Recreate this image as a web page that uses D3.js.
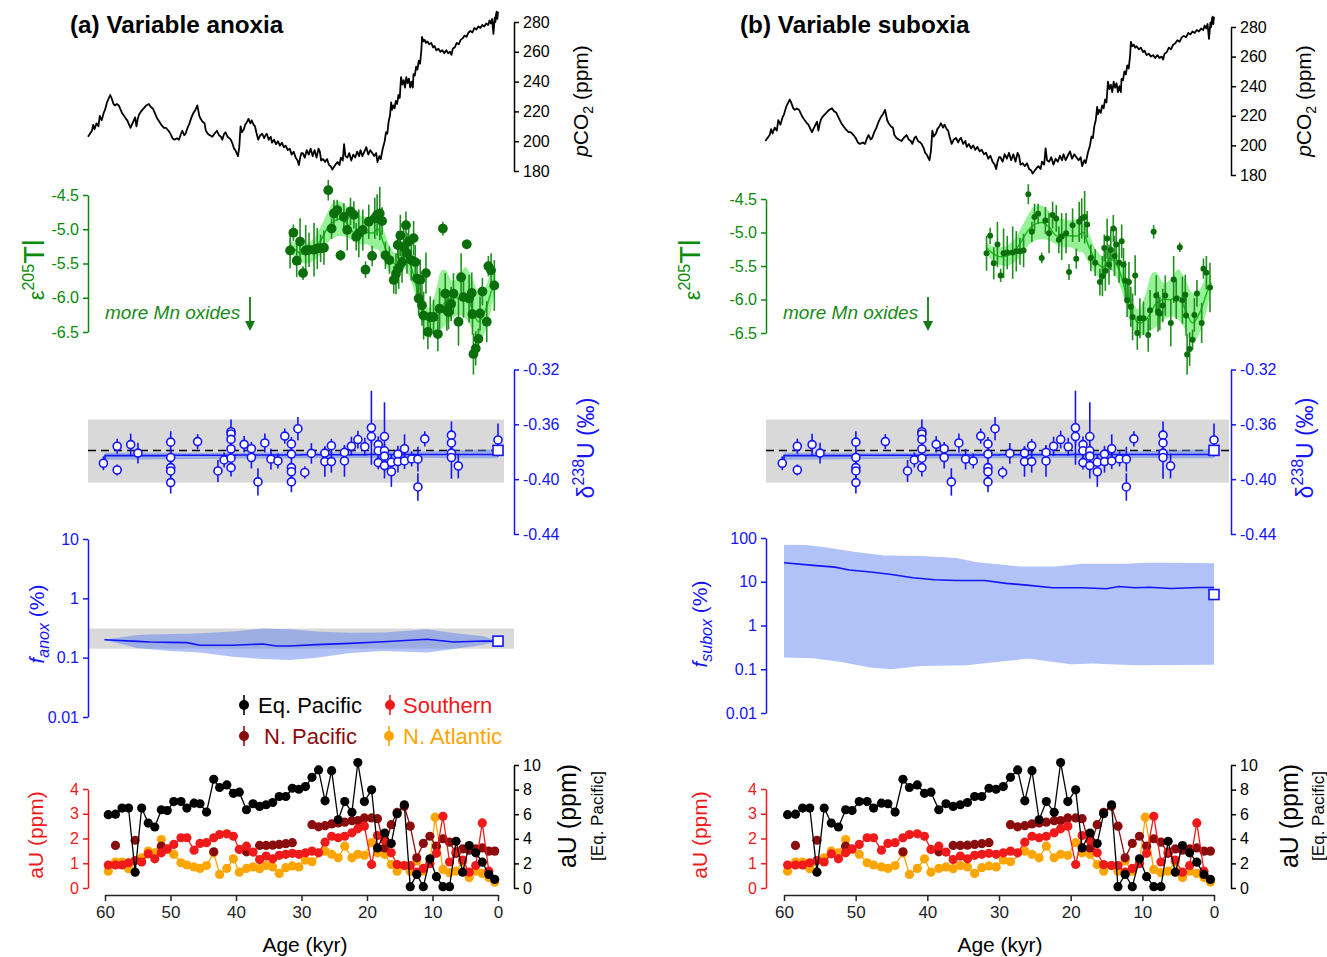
<!DOCTYPE html>
<html>
<head>
<meta charset="utf-8">
<script src="https://cdn.jsdelivr.net/npm/d3@7"></script>
<style>
  body { margin: 0; background: #fff; }
  svg { font-family: "Liberation Sans", Arial, sans-serif; }
</style>
</head>
<body>
<svg id="chart" width="1327" height="957"></svg>
<script>
// ---- pCO2 record (age kyr, ppm)
var co2Age = [62.6, 62.3, 62.0, 61.8, 61.6, 61.3, 61.0, 60.8, 60.5, 60.2,
  60.0, 59.7, 59.4, 59.2, 59.0, 58.7, 58.5, 58.2, 57.9, 57.6,
  57.4, 57.1, 56.8, 56.6, 56.3, 56.1, 55.8, 55.6, 55.4, 55.2,
  55.0, 54.8, 54.5, 54.1, 53.7, 53.3, 53.0, 52.7, 52.4, 52.0,
  51.7, 51.4, 51.0, 50.7, 50.3, 50.0, 49.7, 49.4, 49.0, 48.7,
  48.4, 48.2, 47.9, 47.7, 47.4, 47.1, 46.8, 46.5, 46.2, 45.9,
  45.6, 45.4, 45.1, 44.8, 44.6, 44.3, 44.0, 43.6, 43.3, 42.9,
  42.6, 42.3, 42.1, 41.8, 41.6, 41.3, 41.0, 40.8, 40.5, 40.3,
  40.1,
  39.9, 39.7, 39.5, 39.3, 39.1, 38.8, 38.6, 38.3, 38.1, 37.8,
  37.6, 37.3, 37.1, 36.9, 36.6, 36.3, 36.0, 35.7, 35.5, 35.3,
  35.0, 34.7, 34.5, 34.2, 33.9, 33.6, 33.3, 33.0, 32.7, 32.4,
  32.1, 31.8, 31.5, 31.2, 30.9, 30.6, 30.4, 30.2, 30.0,
  29.8, 29.5, 29.2, 28.9, 28.6, 28.3, 28.0, 27.7, 27.4, 27.2,
  27.0, 26.7, 26.4, 26.1, 25.8, 25.5, 25.3, 25.0, 24.7, 24.5,
  24.2, 24.0, 23.7, 23.5, 23.3, 23.0, 22.7, 22.4, 22.1, 21.8,
  21.5, 21.2, 21.0, 20.7, 20.4, 20.1, 19.8, 19.5, 19.2, 18.9,
  18.6, 18.4, 18.1, 17.9, 17.6, 17.3,
  17.1, 16.9, 16.7, 16.5, 16.3, 16.2, 16.0, 15.8, 15.6, 15.4,
  15.2, 15.0, 14.8, 14.6, 14.4, 14.2, 14.0, 13.8, 13.6, 13.4,
  13.2, 13.0, 12.9, 12.7, 12.5, 12.3, 12.1, 11.9, 11.7, 11.6,
  11.4, 11.2, 11.0, 10.8, 10.5, 10.2, 9.9, 9.7, 9.4, 9.1,
  8.8, 8.5, 8.2, 7.9, 7.6, 7.3, 7.1, 6.9, 6.6, 6.3,
  6.0, 5.7, 5.4, 5.1, 4.8, 4.5, 4.2, 3.9, 3.6, 3.3,
  3.0, 2.7, 2.4, 2.1, 1.8, 1.5, 1.3, 1.1, 0.9, 0.7,
  0.5, 0.4, 0.3, 0.2, 0.1, 0.0];
var co2Ppm = [203, 205, 207, 211, 208, 212, 210, 217, 214, 219,
  221, 226, 229, 231, 229, 225, 224, 225, 224, 221,
  219, 217, 215, 214, 211, 209, 212, 214, 216, 210,
  215, 218, 220, 222, 224, 225, 223, 222, 219, 215,
  213, 211, 209, 209, 207, 205, 202, 201, 202, 201,
  205, 207, 204, 205, 209, 212, 216, 219, 221, 224,
  217, 215, 213, 212, 207, 205, 204, 203, 205, 207,
  204, 203, 201, 205, 206, 203, 202, 201, 198, 195,
  194,
  192, 190, 196, 210, 206, 208, 211, 213, 215, 212,
  214, 211, 210, 206, 201, 204, 205, 202, 204, 205,
  201, 203, 199, 201, 198, 200, 197, 199, 196, 197,
  194, 195, 191, 193, 189, 187, 184, 189, 192,
  192, 189, 194, 191, 195, 190, 194, 189, 195, 193,
  187, 188, 186, 188, 184, 183, 181, 183, 185, 186,
  184, 189, 187, 198, 190, 189, 192, 187, 191, 189,
  193, 190, 194, 190, 193, 196, 191, 194, 192, 190,
  192, 186, 190, 188, 195, 200,
  206, 205, 213, 217, 226, 221, 224, 222, 227, 225,
  231, 229, 243, 238, 241, 236, 243, 239, 242, 236,
  240, 236, 245, 244, 250, 248, 254, 252, 261, 270,
  267, 268, 266, 267, 265, 266, 263, 264, 261, 262,
  260, 261, 259, 261, 259, 260, 258, 262, 263, 266,
  265, 268, 269, 271, 270, 273, 274, 273, 276, 275,
  277, 276, 278, 277, 279, 278, 281, 279, 282, 272,
  283, 280, 285, 287, 282, 287];

// ---- Tl isotopes (epsilon 205Tl) with 2sd
var tlAge = [31.74, 31.24, 30.73, 30.22, 29.77, 29.36, 28.85, 28.09, 27.59, 27.08, 26.57, 25.91, 25.41, 25.05, 24.54, 24.04, 23.53, 23.02, 22.52, 22.01, 21.65, 21.25, 20.64, 20.23, 19.73, 19.22, 18.81, 18.46, 18.05, 17.7, 17.19, 16.58, 15.92, 15.57, 15.31, 15.16, 14.91, 14.65, 14.4, 14.05, 13.89, 13.64, 13.24, 12.88, 12.63, 12.37, 12.12, 11.87, 11.61, 11.36, 11.0, 10.7, 10.34, 9.84, 9.18, 8.92, 8.42, 8.06, 7.81, 7.56, 7.15, 6.8, 6.03, 5.63, 5.27, 4.77, 4.41, 4.01, 3.9, 3.75, 3.4, 2.99, 2.74, 2.38, 1.72, 1.47, 1.06, 0.56];
var tlVal = [-5.31, -5.05, -5.46, -5.18, -5.64, -5.31, -5.30, -5.30, -5.28, -5.28, -5.27, -4.43, -4.99, -4.77, -4.72, -5.38, -4.82, -5.01, -4.74, -4.79, -5.11, -5.06, -5.01, -5.59, -4.89, -5.39, -4.84, -4.79, -4.77, -4.88, -5.38, -5.45, -5.74, -5.65, -5.23, -5.57, -5.09, -5.48, -5.26, -4.94, -5.35, -5.18, -5.45, -5.13, -5.48, -5.72, -6.01, -5.74, -6.11, -6.26, -5.64, -6.50, -6.28, -6.28, -6.53, -6.16, -4.99, -5.94, -6.18, -6.21, -6.09, -5.94, -6.35, -5.70, -5.99, -5.22, -6.01, -5.93, -6.24, -6.82, -6.74, -6.60, -6.23, -5.91, -6.35, -5.54, -5.60, -5.82];
var tlErr = [0.26, 0.12, 0.24, 0.34, 0.1, 0.37, 0.25, 0.39, 0.3, 0.2, 0.25, 0.15, 0.15, 0.2, 0.15, 0.08, 0.2, 0.3, 0.2, 0.2, 0.2, 0.35, 0.3, 0.12, 0.25, 0.15, 0.3, 0.3, 0.39, 0.2, 0.2, 0.2, 0.2, 0.3, 0.2, 0.3, 0.3, 0.3, 0.3, 0.2, 0.3, 0.25, 0.3, 0.25, 0.25, 0.3, 0.25, 0.3, 0.3, 0.35, 0.3, 0.25, 0.3, 0.25, 0.25, 0.3, 0.1, 0.3, 0.3, 0.25, 0.25, 0.3, 0.35, 0.35, 0.3, 0.07, 0.35, 0.3, 0.3, 0.3, 0.25, 0.15, 0.25, 0.2, 0.3, 0.15, 0.25, 0.37];
var tlFitAge = [31.8, 31, 30, 29, 28, 27, 26, 25, 24, 23, 22, 21, 20, 19, 18.3, 17.5, 16.5, 15.5, 14.5, 13.5, 12.5, 11.5, 10.5, 9.5, 8.6, 8, 7, 6, 5, 4, 3, 2, 1, 0.4];
var tlFit = [-5.22, -5.3, -5.36, -5.35, -5.3, -5.15, -4.98, -4.88, -4.85, -4.92, -5.05, -5.05, -5.05, -5.05, -5.0, -5.2, -5.42, -5.52, -5.38, -5.5, -5.82, -6.2, -6.35, -6.3, -6.15, -6.05, -6.0, -6.0, -5.95, -6.15, -6.35, -6.2, -5.9, -5.75];
var tlFitHi = [-5.15, -5.2, -5.22, -5.2, -5.12, -4.95, -4.75, -4.6, -4.6, -4.68, -4.78, -4.8, -4.82, -4.8, -4.85, -5.0, -5.25, -5.35, -5.2, -5.3, -5.6, -6.0, -6.15, -5.9, -5.6, -5.6, -5.75, -5.7, -5.55, -5.7, -5.9, -5.85, -5.65, -5.65];
var tlFitLo = [-5.3, -5.42, -5.48, -5.5, -5.45, -5.35, -5.2, -5.12, -5.1, -5.12, -5.18, -5.22, -5.22, -5.28, -5.3, -5.45, -5.62, -5.72, -5.55, -5.7, -6.0, -6.4, -6.55, -6.5, -6.45, -6.4, -6.3, -6.25, -6.3, -6.45, -6.65, -6.5, -6.15, -5.85];

// ---- U isotopes (d238U, permil) with 2sd
var uAge = [60.24, 58.14, 58.14, 56.08, 54.97, 49.97, 49.97, 49.97, 49.97, 49.97, 45.86, 42.76, 41.81, 40.76, 40.76, 40.76, 40.76, 40.76, 40.76, 38.76, 37.65, 37.65, 36.65, 35.6, 34.66, 33.6, 32.55, 31.54, 31.54, 31.54, 31.54, 31.54, 30.55, 29.5, 28.49, 26.44, 26.44, 25.44, 25.44, 23.44, 23.44, 22.38, 21.39, 20.34, 19.33, 19.33, 18.28, 18.28, 18.28, 17.33, 17.33, 17.33, 17.33, 16.28, 16.28, 15.28, 15.28, 14.27, 14.27, 13.18, 12.23, 12.23, 11.18, 7.11, 7.11, 7.11, 7.11, 6.06, 0];
var uVal = [-0.3884, -0.376, -0.3933, -0.3748, -0.381, -0.373, -0.3842, -0.3916, -0.394, -0.4025, -0.3726, -0.394, -0.386, -0.3654, -0.367, -0.371, -0.378, -0.3847, -0.3916, -0.3746, -0.3778, -0.3842, -0.402, -0.3736, -0.3854, -0.3867, -0.3686, -0.3743, -0.3817, -0.3916, -0.3946, -0.402, -0.3632, -0.3951, -0.3812, -0.381, -0.3872, -0.3756, -0.3872, -0.3805, -0.3867, -0.376, -0.3711, -0.3763, -0.3625, -0.3689, -0.3748, -0.3793, -0.3879, -0.3689, -0.3793, -0.3832, -0.3901, -0.3877, -0.3946, -0.3817, -0.3872, -0.3778, -0.3867, -0.3852, -0.3854, -0.4057, -0.3706, -0.3679, -0.3736, -0.381, -0.3842, -0.3904, -0.3714];
var uErr = [0.005, 0.0055, 0.004, 0.008, 0.0075, 0.008, 0.005, 0.005, 0.005, 0.008, 0.0055, 0.008, 0.0055, 0.009, 0.005, 0.005, 0.005, 0.005, 0.0065, 0.006, 0.005, 0.008, 0.01, 0.007, 0.0075, 0.0055, 0.0055, 0.005, 0.005, 0.005, 0.005, 0.0075, 0.0085, 0.0045, 0.0075, 0.005, 0.011, 0.005, 0.008, 0.005, 0.0115, 0.007, 0.0065, 0.0065, 0.027, 0.005, 0.006, 0.005, 0.005, 0.025, 0.005, 0.005, 0.0094, 0.006, 0.011, 0.006, 0.008, 0.0105, 0.006, 0.0055, 0.009, 0.01, 0.0055, 0.01, 0.005, 0.005, 0.0155, 0.009, 0.012];
var uLineAge = [60.24, 60.0, 58.0, 50, 40, 30, 20, 10, 5, 0];
var uLine = [-0.3875, -0.3828, -0.3828, -0.3826, -0.3824, -0.3822, -0.382, -0.382, -0.382, -0.3818];
var uLineHi = [-0.3875, -0.3808, -0.3808, -0.3808, -0.3808, -0.3806, -0.3804, -0.3796, -0.3788, -0.3782];
var uLineLo = [-0.3875, -0.3858, -0.3858, -0.3855, -0.385, -0.3848, -0.3845, -0.3846, -0.3848, -0.3848];
var uModern = -0.379;
var uModernBand = [-0.3565, -0.4025];

// ---- model output: f anox (left) and f subox (right), percent
var anoxAge = [60.1, 55, 53.1, 50, 47.5, 45.5, 40.5, 35.9, 33.8, 31.8, 27.7, 22.6, 17.5, 10.8, 6.8, 2.2, 0];
var anoxLine = [0.2, 0.188, 0.184, 0.181, 0.179, 0.162, 0.162, 0.17, 0.157, 0.157, 0.166, 0.174, 0.186, 0.204, 0.184, 0.191, 0.19];
var anoxHi = [0.2, 0.242, 0.245, 0.25, 0.253, 0.257, 0.275, 0.31, 0.305, 0.3, 0.275, 0.262, 0.265, 0.3, 0.26, 0.23, 0.19];
var anoxLo = [0.2, 0.144, 0.138, 0.13, 0.126, 0.122, 0.104, 0.095, 0.093, 0.091, 0.1, 0.12, 0.129, 0.122, 0.14, 0.165, 0.19];
var anoxModern = 0.19;
var anoxModernBand = [0.31, 0.142];

var suboxAge = [60, 55.9, 52.9, 50.9, 47.9, 45, 42, 39, 36, 32, 29, 26.5, 22.5, 18.5, 15, 13.3, 11, 9, 6, 2.1, 0];
var suboxLine = [27.2, 23.7, 21.6, 18.5, 16.7, 14.7, 12.3, 11.1, 10.7, 10.7, 9.2, 8.5, 7.3, 7.3, 6.9, 7.8, 7.3, 7.5, 7.0, 7.4, 7.4];
var suboxHiAge = [60, 57, 54, 50, 46, 41, 36, 33, 27, 22, 18.5, 12, 9.6, 6, 0];
var suboxHi = [70, 69, 61, 47.8, 40, 38.6, 35, 28, 22.4, 22.4, 25.8, 25.8, 27.2, 27.2, 26.4];
var suboxLoAge = [60, 55.9, 52, 48, 45, 41, 34.5, 31, 26, 20, 17, 11, 0];
var suboxLo = [0.185, 0.179, 0.147, 0.109, 0.1, 0.119, 0.124, 0.142, 0.175, 0.13, 0.135, 0.124, 0.126];
var suboxModern = 5.1;

// ---- authigenic U (ppm)
var eqAge = [59.5, 58.4, 57.4, 56.4, 55.4, 54.4, 53.4, 52.4, 51.4, 50.5, 49.5, 48.4, 47.5, 46.4, 45.5, 44.5, 43.4, 42.5, 41.4, 40.4, 39.5, 38.4, 37.4, 36.4, 35.4, 34.4, 33.4, 32.4, 31.4, 30.4, 29.4, 28.4, 27.4, 26.4, 25.4, 24.4, 23.4, 22.3, 21.4, 20.4, 19.3, 18.4, 17.3, 16.3, 15.4, 14.3, 13.4, 12.4, 11.4, 10.4, 9.4, 8.4, 7.4, 6.4, 5.4, 4.4, 3.4, 2.4, 1.4, 0.5];
var eqU = [5.96, 6.0, 6.5, 6.5, 1.29, 6.5, 5.28, 4.96, 6.36, 6.3, 7.03, 7.03, 6.5, 6.9, 6.85, 6.17, 8.84, 8.17, 8.38, 7.7, 7.79, 6.36, 6.85, 6.63, 6.77, 6.95, 7.44, 7.44, 8.11, 8.03, 8.25, 9.0, 9.6, 7.09, 9.54, 5.55, 7.03, 6.15, 10.2, 7.03, 7.98, 3.26, 4.47, 3.61, 6.04, 6.77, 0.11, 1.1, 0.11, 2.37, 0.92, 0.11, 0.11, 3.8, 1.29, 3.45, 2.86, 2.1, 1.1, 0.7];
var soAge = [59.5, 58.4, 57.4, 56.4, 55.4, 54.4, 53.4, 52.4, 51.4, 50.5, 49.5, 48.4, 47.5, 46.4, 45.5, 44.5, 43.4, 42.5, 41.4, 40.4, 39.5, 38.4, 37.4, 36.4, 35.4, 34.4, 33.4, 32.4, 31.4, 30.4, 29.4, 28.4, 27.4, 26.4, 25.4, 24.4, 23.4, 22.3, 21.4, 20.4, 19.3, 18.4, 17.3, 16.3, 15.4, 14.3, 13.4, 12.4, 11.4, 10.4, 9.4, 8.4, 7.4, 6.4, 5.4, 4.4, 3.4, 2.4, 1.4];
var soU = [0.93, 0.93, 0.93, 1.02, 1.11, 1.05, 1.38, 1.18, 1.42, 1.58, 1.76, 2.03, 2.03, 1.53, 1.8, 1.83, 2.03, 2.16, 2.19, 2.09, 1.56, 1.69, 1.45, 1.15, 1.29, 1.18, 1.32, 1.36, 1.4, 1.36, 1.42, 1.49, 1.42, 1.85, 2.09, 2.03, 2.09, 2.23, 2.39, 2.5, 0.95, 2.12, 1.93, 1.42, 0.95, 0.91, 0.91, 0.64, 0.79, 0.98, 1.4, 2.9, 1.05, 1.46, 1.13, 0.64, 0.91, 2.63, 0.68];
var npAge = [58.4, 55.4, 51.4, 43.4, 38.4, 36.4, 35.4, 34.4, 33.4, 32.4, 31.4, 28.4, 27.4, 26.4, 25.4, 24.4, 23.4, 22.3, 21.4, 20.4, 19.3, 18.4, 17.3, 16.3, 15.4, 14.3, 13.4, 12.4, 11.4, 10.4, 9.4, 8.4, 7.4, 6.4, 5.4, 4.4, 3.4, 2.4, 1.4, 0.5];
var npU = [1.72, 1.93, 1.69, 1.46, 1.46, 1.72, 1.72, 1.73, 1.76, 1.79, 1.83, 2.56, 2.47, 2.52, 2.59, 2.63, 2.66, 2.72, 2.72, 2.83, 2.83, 2.8, 1.62, 2.56, 3.06, 3.3, 2.5, 1.22, 1.8, 2.09, 1.69, 1.99, 1.85, 1.4, 1.58, 1.53, 1.58, 1.62, 1.49, 1.49];
var npSeg = [0, 1, 2, 3, 4, 5, 5, 5, 5, 5, 5, 6, 6, 6, 6, 6, 6, 6, 6, 6, 6, 6, 6, 6, 6, 6, 6, 6, 6, 6, 6, 6, 6, 6, 6, 6, 6, 6, 6, 6];
var naAge = [59.5, 58.4, 57.4, 56.4, 54.4, 53.4, 52.4, 51.4, 50.5, 49.5, 48.4, 47.5, 46.4, 45.5, 44.5, 43.4, 42.5, 41.4, 40.4, 39.5, 38.4, 37.4, 36.4, 35.4, 34.4, 33.4, 32.4, 31.4, 30.4, 29.4, 28.4, 26.4, 25.4, 24.4, 23.4, 22.3, 21.4, 20.4, 19.3, 18.4, 17.3, 16.3, 15.4, 14.3, 13.4, 12.4, 11.4, 10.4, 9.6, 8.4, 7.4, 6.4, 5.4, 4.4, 3.4, 2.4, 1.4, 0.5];
var naU = [0.68, 1.05, 1.05, 0.78, 1.22, 1.49, 1.42, 1.96, 1.56, 1.36, 1.02, 0.93, 0.85, 0.79, 0.91, 1.42, 0.55, 0.79, 1.18, 0.64, 0.79, 0.85, 0.78, 0.91, 0.85, 0.59, 0.82, 0.89, 0.85, 1.13, 1.06, 1.49, 1.36, 1.22, 1.69, 1.22, 1.36, 1.32, 1.83, 1.42, 1.36, 0.95, 0.68, 0.91, 0.68, 1.09, 0.68, 1.02, 2.86, 0.75, 0.62, 0.68, 1.05, 0.42, 0.68, 0.59, 0.42, 0.24];

// ---- ticks
var co2Ticks = [180, 200, 220, 240, 260, 280];
var tlTicks = [-4.5, -5.0, -5.5, -6.0, -6.5];
var uTicks = [-0.32, -0.36, -0.40, -0.44];
var ageTicks = [60, 50, 40, 30, 20, 10, 0];
var auLTicks = [0, 1, 2, 3, 4];
var auRTicks = [0, 2, 4, 6, 8, 10];
var legendNames = ['Eq. Pacific', 'Southern', 'N. Pacific', 'N. Atlantic'];

var GREEN = '#0a8a0a', GREEN_PT = '#0a6e0a', BLUE = '#1414ff', RED = '#f01a1a', DKRED = '#8b0c0c', ORANGE = '#ffa500';
var FONT = '"Liberation Sans", Arial, sans-serif';

var columns = [
  { title: '(a) Variable anoxia', titleX: 70, axL: 88, axR: 514, x60: 105, x0: 498, bandEnd: 504,
    co2: [22, 171], tl: [195, 332], du: [369.5, 534], f: [539, 717], auL: [789, 888], auR: [765, 888], ageY: 895,
    mode: 'anox', tlR: 4.9, labels: { co2X: 588, tlX: 44, duX: 594, fX: 44, auLX: 43, auRX: 576, eqX: 603, ageX: 305, mnX: 105, arrowX: 250 } },
  { title: '(b) Variable suboxia', titleX: 740, axL: 766, axR: 1231, x60: 784, x0: 1214, bandEnd: 1229,
    co2: [27, 175], tl: [199, 333], du: [369.5, 534], f: [538, 713], auL: [789, 888], auR: [765, 888], ageY: 895,
    mode: 'subox', tlR: 3.0, labels: { co2X: 1311, tlX: 700, duX: 1313, fX: 707, auLX: 707, auRX: 1298, eqX: 1324, ageX: 1000, mnX: 783, arrowX: 928 } }
];

var svg = d3.select('#chart');

function styleAxis(g, color, size) {
  g.attr('font-family', FONT).attr('font-size', size || 16);
  g.selectAll('path, line').attr('stroke', color).attr('stroke-width', 1.5);
  g.selectAll('text').attr('fill', color);
}

// rotated axis title built from tspans (for super/subscripts)
function rotLabel(x, y, size, color, parts) {
  var t = svg.append('text')
    .attr('transform', 'translate(' + x + ',' + y + ') rotate(-90)')
    .attr('text-anchor', 'middle').attr('fill', color)
    .attr('font-size', size).attr('font-family', FONT);
  parts.forEach(function(p) {
    var s = t.append('tspan').text(p.t);
    if (p.size) s.attr('font-size', p.size);
    if (p.dy) s.attr('dy', p.dy);
    if (p.it) s.attr('font-style', 'italic');
  });
  return t;
}

function polygon(x, y, ageHi, hi, ageLo, lo) {
  var pts = ageHi.map(function(a, i) { return [x(a), y(hi[i])]; });
  for (var i = ageLo.length - 1; i >= 0; i--) pts.push([x(ageLo[i]), y(lo[i])]);
  return d3.line()(pts) + 'Z';
}

function fixed(n) { return function(d) { return d.toFixed(n); }; }

columns.forEach(function(c, ci) {
  var L = c.labels;
  var x = d3.scaleLinear().domain([60, 0]).range([c.x60, c.x0]);

  svg.append('text').attr('x', c.titleX).attr('y', 33).attr('font-size', 24.3).attr('font-weight', 'bold')
    .attr('font-family', FONT).text(c.title);

  // ---------- pCO2
  var yC = d3.scaleLinear().domain([180, 280]).range([c.co2[1], c.co2[0]]);
  svg.append('path').datum(co2Age.map(function(a, i) { return [a, co2Ppm[i]]; }))
    .attr('fill', 'none').attr('stroke', '#000').attr('stroke-width', 1.8).attr('stroke-linejoin', 'round')
    .attr('d', d3.line().x(function(d) { return x(d[0]); }).y(function(d) { return yC(d[1]); }));
  var gC = svg.append('g').attr('transform', 'translate(' + c.axR + ',0)')
    .call(d3.axisRight(yC).tickValues(co2Ticks).tickSize(5).tickSizeOuter(0).tickPadding(4));
  styleAxis(gC, '#000');
  rotLabel(L.co2X, 101, 21, '#000', [{ t: 'p', it: true }, { t: 'CO' }, { t: '2', size: 14, dy: 5 }, { t: ' (ppm)', dy: -5 }]);

  // ---------- Tl
  var yT = d3.scaleLinear().domain([-4.5, -6.5]).range([c.tl[0], c.tl[1]]);
  svg.append('path').datum(tlFitAge.map(function(a, i) { return i; }))
    .attr('fill', '#8cf08c').attr('opacity', 0.9)
    .attr('d', d3.area().curve(d3.curveCatmullRom)
      .x(function(i) { return x(tlFitAge[i]); })
      .y0(function(i) { return yT(tlFitLo[i]); })
      .y1(function(i) { return yT(tlFitHi[i]); }));
  svg.append('path').datum(tlFitAge.map(function(a, i) { return [a, tlFit[i]]; }))
    .attr('fill', 'none').attr('stroke', '#16c016').attr('stroke-width', 1.5)
    .attr('d', d3.line().curve(d3.curveCatmullRom).x(function(d) { return x(d[0]); }).y(function(d) { return yT(d[1]); }));
  var tlPts = tlAge.map(function(a, i) { return { a: a, v: tlVal[i], e: tlErr[i] }; });
  svg.append('g').selectAll('line').data(tlPts).join('line')
    .attr('x1', function(d) { return x(d.a); }).attr('x2', function(d) { return x(d.a); })
    .attr('y1', function(d) { return yT(d.v + d.e); }).attr('y2', function(d) { return yT(d.v - d.e); })
    .attr('stroke', '#1f8f1f').attr('stroke-width', 1.6);
  svg.append('g').selectAll('circle').data(tlPts).join('circle')
    .attr('cx', function(d) { return x(d.a); }).attr('cy', function(d) { return yT(d.v); })
    .attr('r', c.tlR).attr('fill', GREEN_PT);
  var gT = svg.append('g').attr('transform', 'translate(' + c.axL + ',0)')
    .call(d3.axisLeft(yT).tickValues(tlTicks).tickFormat(fixed(1)).tickSize(5).tickSizeOuter(0).tickPadding(4));
  styleAxis(gT, GREEN);
  rotLabel(L.tlX, 270, 22, GREEN, [{ t: 'ε' }, { t: '205', size: 16, dy: -10 }, { t: 'Tl', size: 29, dy: 10 }]);
  svg.append('text').attr('x', L.mnX).attr('y', 319).attr('font-size', 19).attr('font-style', 'italic')
    .attr('fill', '#1a8a1a').attr('font-family', FONT).text('more Mn oxides');
  svg.append('line').attr('x1', L.arrowX).attr('x2', L.arrowX).attr('y1', 297).attr('y2', 323)
    .attr('stroke', '#137a13').attr('stroke-width', 1.8);
  svg.append('path').attr('d', 'M' + (L.arrowX - 5) + ',321L' + (L.arrowX + 5) + ',321L' + L.arrowX + ',331Z').attr('fill', '#137a13');

  // ---------- d238U
  var yU = d3.scaleLinear().domain([-0.32, -0.44]).range([c.du[0], c.du[1]]);
  svg.append('rect').attr('x', c.axL).attr('width', c.bandEnd - c.axL)
    .attr('y', yU(uModernBand[0])).attr('height', yU(uModernBand[1]) - yU(uModernBand[0])).attr('fill', '#d9d9d9');
  svg.append('line').attr('x1', c.axL).attr('x2', c.bandEnd).attr('y1', yU(uModern)).attr('y2', yU(uModern))
    .attr('stroke', '#000').attr('stroke-width', 1.5).attr('stroke-dasharray', '8,5');
  svg.append('path').attr('fill', 'rgba(90,130,240,0.5)')
    .attr('d', polygon(x, yU, uLineAge, uLineHi, uLineAge, uLineLo));
  svg.append('path').datum(uLineAge.map(function(a, i) { return [a, uLine[i]]; }))
    .attr('fill', 'none').attr('stroke', BLUE).attr('stroke-width', 1.6)
    .attr('d', d3.line().curve(d3.curveStepAfter).x(function(d) { return x(d[0]); }).y(function(d) { return yU(d[1]); }));
  var uPts = uAge.map(function(a, i) { return { a: a, v: uVal[i], e: uErr[i] }; });
  svg.append('g').selectAll('line').data(uPts).join('line')
    .attr('x1', function(d) { return x(d.a); }).attr('x2', function(d) { return x(d.a); })
    .attr('y1', function(d) { return yU(d.v + d.e); }).attr('y2', function(d) { return yU(d.v - d.e); })
    .attr('stroke', BLUE).attr('stroke-width', 1.6);
  svg.append('g').selectAll('circle').data(uPts).join('circle')
    .attr('cx', function(d) { return x(d.a); }).attr('cy', function(d) { return yU(d.v); })
    .attr('r', 4).attr('fill', '#fff').attr('stroke', BLUE).attr('stroke-width', 1.6);
  svg.append('rect').attr('x', x(0) - 5).attr('y', yU(uModern) - 5).attr('width', 10).attr('height', 10)
    .attr('fill', '#fff').attr('stroke', BLUE).attr('stroke-width', 1.6);
  var gU = svg.append('g').attr('transform', 'translate(' + c.axR + ',0)')
    .call(d3.axisRight(yU).tickValues(uTicks).tickFormat(fixed(2)).tickSize(5).tickSizeOuter(0).tickPadding(4));
  styleAxis(gU, BLUE);
  rotLabel(L.duX, 448, 23, BLUE, [{ t: 'δ' }, { t: '238', size: 16, dy: -10 }, { t: 'U (‰)', dy: 10 }]);

  // ---------- f anox / f subox
  var yF;
  if (c.mode === 'anox') {
    yF = d3.scaleLog().domain([10, 0.01]).range([c.f[0], c.f[1]]);
    svg.append('rect').attr('x', c.axL).attr('width', c.axR - c.axL)
      .attr('y', yF(anoxModernBand[0])).attr('height', yF(anoxModernBand[1]) - yF(anoxModernBand[0])).attr('fill', '#d9d9d9');
    svg.append('path').attr('fill', 'rgba(80,120,240,0.45)')
      .attr('d', polygon(x, yF, anoxAge, anoxHi, anoxAge, anoxLo));
    svg.append('path').datum(anoxAge.map(function(a, i) { return [a, anoxLine[i]]; }))
      .attr('fill', 'none').attr('stroke', BLUE).attr('stroke-width', 1.6)
      .attr('d', d3.line().x(function(d) { return x(d[0]); }).y(function(d) { return yF(d[1]); }));
    svg.append('rect').attr('x', x(0) - 5).attr('y', yF(anoxModern) - 5).attr('width', 10).attr('height', 10)
      .attr('fill', '#fff').attr('stroke', BLUE).attr('stroke-width', 1.6);
  } else {
    yF = d3.scaleLog().domain([100, 0.01]).range([c.f[0], c.f[1]]);
    svg.append('path').attr('fill', 'rgba(80,120,240,0.45)')
      .attr('d', polygon(x, yF, suboxHiAge, suboxHi, suboxLoAge, suboxLo));
    svg.append('path').datum(suboxAge.map(function(a, i) { return [a, suboxLine[i]]; }))
      .attr('fill', 'none').attr('stroke', BLUE).attr('stroke-width', 1.6)
      .attr('d', d3.line().x(function(d) { return x(d[0]); }).y(function(d) { return yF(d[1]); }));
    svg.append('rect').attr('x', x(0) - 5).attr('y', yF(suboxModern) - 5).attr('width', 10).attr('height', 10)
      .attr('fill', '#fff').attr('stroke', BLUE).attr('stroke-width', 1.6);
  }
  var fTicks = c.mode === 'anox' ? [10, 1, 0.1, 0.01] : [100, 10, 1, 0.1, 0.01];
  var gF = svg.append('g').attr('transform', 'translate(' + c.axL + ',0)')
    .call(d3.axisLeft(yF).tickValues(fTicks).tickFormat(function(d) { return String(d); }).tickSize(5).tickSizeOuter(0).tickPadding(4));
  styleAxis(gF, BLUE);
  rotLabel(L.fX, 624, 21, BLUE, [{ t: 'f', it: true }, { t: c.mode, it: true, size: 16, dy: 5 }, { t: ' (%)', dy: -5 }]);

  // ---------- authigenic U
  var yL = d3.scaleLinear().domain([0, 4]).range([c.auL[1], c.auL[0]]);
  var yR = d3.scaleLinear().domain([0, 10]).range([c.auR[1], c.auR[0]]);
  function series(ages, vals, ys, color, segs) {
    var pts = ages.map(function(a, i) { return { a: a, v: vals[i], s: segs ? segs[i] : 0 }; });
    var groups = d3.groups(pts, function(d) { return d.s; });
    var line = d3.line().x(function(d) { return x(d.a); }).y(function(d) { return ys(d.v); });
    groups.forEach(function(gp) {
      if (gp[1].length > 1) svg.append('path').datum(gp[1]).attr('fill', 'none').attr('stroke', color).attr('stroke-width', 1.3).attr('d', line);
    });
    svg.append('g').selectAll('circle').data(pts).join('circle')
      .attr('cx', function(d) { return x(d.a); }).attr('cy', function(d) { return ys(d.v); })
      .attr('r', 4.6).attr('fill', color);
  }
  series(naAge, naU, yL, ORANGE);
  series(npAge, npU, yL, DKRED, npSeg);
  series(soAge, soU, yL, RED);
  series(eqAge, eqU, yR, '#000');

  var gL = svg.append('g').attr('transform', 'translate(' + c.axL + ',0)')
    .call(d3.axisLeft(yL).tickValues(auLTicks).tickFormat(fixed(0)).tickSize(5).tickSizeOuter(0).tickPadding(4));
  styleAxis(gL, RED);
  var gR = svg.append('g').attr('transform', 'translate(' + c.axR + ',0)')
    .call(d3.axisRight(yR).tickValues(auRTicks).tickFormat(fixed(0)).tickSize(5).tickSizeOuter(0).tickPadding(4));
  styleAxis(gR, '#000');
  var gX = svg.append('g').attr('transform', 'translate(0,' + c.ageY + ')')
    .call(d3.axisBottom(x).tickValues(ageTicks).tickFormat(fixed(0)).tickSize(6).tickSizeOuter(0).tickPadding(5));
  styleAxis(gX, '#222', 17);
  svg.append('text').attr('x', L.ageX).attr('y', 952).attr('text-anchor', 'middle').attr('font-size', 21)
    .attr('font-family', FONT).text('Age (kyr)');
  rotLabel(L.auLX, 835, 21, RED, [{ t: 'aU (ppm)' }]);
  rotLabel(L.auRX, 816, 25, '#000', [{ t: 'aU (ppm)' }]);
  rotLabel(L.eqX, 816, 17, '#000', [{ t: '[Eq. Pacific]' }]);

  // ---------- legend (left column only)
  if (ci === 0) {
    var leg = [
      { n: legendNames[0], c: '#000', mx: 244, tx: 258, y: 705 },
      { n: legendNames[1], c: RED, mx: 390, tx: 403, y: 705 },
      { n: legendNames[2], c: DKRED, mx: 244, tx: 264, y: 736 },
      { n: legendNames[3], c: ORANGE, mx: 389, tx: 403, y: 736 }
    ];
    var lg = svg.append('g').selectAll('g').data(leg).join('g');
    lg.append('line').attr('x1', function(d) { return d.mx; }).attr('x2', function(d) { return d.mx; })
      .attr('y1', function(d) { return d.y - 10; }).attr('y2', function(d) { return d.y + 10; })
      .attr('stroke', function(d) { return d.c; }).attr('stroke-width', 1.6);
    lg.append('circle').attr('cx', function(d) { return d.mx; }).attr('cy', function(d) { return d.y; })
      .attr('r', 5).attr('fill', function(d) { return d.c; });
    lg.append('text').attr('x', function(d) { return d.tx; }).attr('y', function(d) { return d.y + 8; })
      .attr('font-size', 22).attr('font-family', FONT).attr('fill', function(d) { return d.c; })
      .text(function(d) { return d.n; });
  }
});
</script>
</body>
</html>
